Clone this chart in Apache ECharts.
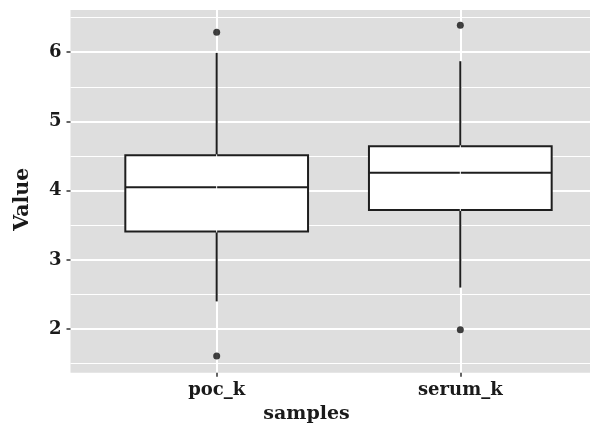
<!DOCTYPE html>
<html>
<head>
<meta charset="utf-8">
<script src="https://cdn.jsdelivr.net/npm/echarts@6/dist/echarts.min.js"></script>
<style>html,body{margin:0;padding:0;background:#fff;overflow:hidden}#c{width:590px;height:424px}</style>
</head>
<body>
<div id="c"></div>
<script>
const categories = ['poc_k', 'serum_k'];
const whiskerLow = [2.40, 2.60];
const q1 = [3.41, 3.72];
const median = [4.05, 4.26];
const q3 = [4.51, 4.64];
const whiskerHigh = [5.99, 5.87];
const outlierCat = [0, 0, 1, 1];
const outlierVal = [6.29, 1.61, 6.39, 1.99];
const yTicks = [2, 3, 4, 5, 6];
const yMinor = [1.5, 2.5, 3.5, 4.5, 5.5, 6.5];

const font = 'DejaVu Serif';
const boxData = categories.map((c, i) => [i + 1, whiskerLow[i], q1[i], median[i], q3[i], whiskerHigh[i]]);
const outData = outlierCat.map((c, i) => [c + 1, outlierVal[i]]);
const catPos = categories.map((c, i) => i + 1);

const chart = echarts.init(document.getElementById('c'), null, {renderer: 'canvas'});
chart.setOption({
  animation: false,
  backgroundColor: '#ffffff',
  grid: {left: 70.5, top: 10, width: 536, height: 362.7, show: true, backgroundColor: '#dedede', borderWidth: 0,
    outerBoundsMode: 'none', containLabel: false},
  xAxis: {
    type: 'value', min: 0.4, max: 2.6,
    axisLine: {show: false},
    axisTick: {show: true, customValues: catPos, length: 4, lineStyle: {color: '#333', width: 1.5}},
    axisLabel: {customValues: catPos, formatter: v => categories[Math.round(v) - 1], margin: 9,
      fontFamily: font, fontWeight: 'bold', fontSize: 18, color: '#1a1a1a'},
    splitLine: {show: true, lineStyle: {color: '#ffffff', width: 2}},
    name: 'samples', nameLocation: 'middle', nameGap: 32,
    nameTextStyle: {fontFamily: font, fontWeight: 'bold', fontSize: 19, color: '#1a1a1a', padding: [0, 64, 0, 0]}
  },
  yAxis: [{
    type: 'value', min: 1.37, max: 6.61,
    axisLine: {show: false},
    axisTick: {show: true, customValues: yTicks, length: 4, lineStyle: {color: '#333', width: 1.5}},
    axisLabel: {customValues: yTicks, margin: 9, fontFamily: font, fontWeight: 'bold', fontSize: 18, color: '#1a1a1a'},
    splitLine: {show: true, lineStyle: {color: '#ffffff', width: 2}},
    name: 'Value', nameLocation: 'middle', nameRotate: 90, nameGap: 37,
    nameTextStyle: {fontFamily: font, fontWeight: 'bold', fontSize: 20.5, color: '#1a1a1a', padding: [0, 16, 0, 0]}
  }, {
    type: 'value', min: 1.37, max: 6.61, position: 'left',
    axisLine: {show: false},
    axisTick: {show: false, customValues: yMinor},
    axisLabel: {show: false},
    splitLine: {show: true, lineStyle: {color: '#ffffff', width: 1.2}}
  }],
  series: [{
    type: 'custom',
    data: boxData,
    z: 3,
    renderItem: function (params, api) {
      const x = api.value(0);
      const half = 0.375;
      const pHi = api.coord([x, api.value(5)]);
      const pQ3 = api.coord([x, api.value(4)]);
      const pMed = api.coord([x, api.value(3)]);
      const pQ1 = api.coord([x, api.value(2)]);
      const pLo = api.coord([x, api.value(1)]);
      const xl = api.coord([x - half, 0])[0];
      const xr = api.coord([x + half, 0])[0];
      const stroke = {stroke: '#1e1e1e', lineWidth: 2};
      return {
        type: 'group',
        children: [
          {type: 'line', shape: {x1: pHi[0], y1: pHi[1], x2: pQ3[0], y2: pQ3[1]}, style: stroke},
          {type: 'line', shape: {x1: pLo[0], y1: pLo[1], x2: pQ1[0], y2: pQ1[1]}, style: stroke},
          {type: 'rect', shape: {x: xl, y: pQ3[1], width: xr - xl, height: pQ1[1] - pQ3[1]},
            style: {fill: '#ffffff', stroke: '#1e1e1e', lineWidth: 2}},
          {type: 'line', shape: {x1: xl, y1: pMed[1], x2: xr, y2: pMed[1]}, style: stroke},
          {type: 'line', shape: {x1: pQ3[0], y1: pQ3[1] - 1, x2: pQ1[0], y2: pQ1[1] + 1},
            style: {stroke: '#ffffff', lineWidth: 1}}
        ]
      };
    }
  }, {
    type: 'scatter',
    data: outData,
    symbol: 'circle',
    symbolSize: 7,
    z: 4,
    itemStyle: {color: '#111'}
  }]
});
</script>
</body>
</html>
